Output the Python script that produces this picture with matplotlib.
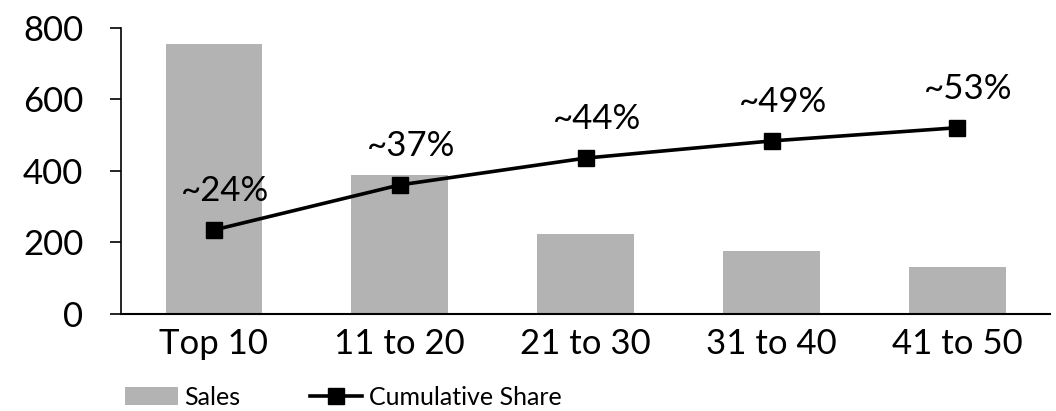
import matplotlib.pyplot as plt
import numpy as np

plt.rcParams['font.family'] = ['Lato', 'DejaVu Sans']

categories = ['Top 10', '11 to 20', '21 to 30', '31 to 40', '41 to 50']
sales = [754, 389, 224, 176, 131]
cumulative = [235, 361, 436, 484, 521]
share_labels = ['~24%', '~37%', '~44%', '~49%', '~53%']

fig = plt.figure(figsize=(10.56, 4.11), dpi=100)
ax = fig.add_axes([0.1146, 0.236, 0.88, 0.696])

x = np.arange(len(categories))
bars = ax.bar(x, sales, width=0.52, color='#b3b3b3', label='Sales', zorder=1)
line, = ax.plot(x, cumulative, color='black', lw=2.6, marker='s', markersize=12,
                label='Cumulative Share', zorder=3)

for xi, yi, lab in zip(x, cumulative, share_labels):
    ax.annotate(lab, (xi, yi), xytext=(8, 28), textcoords='offset points',
                ha='center', va='center', fontsize=25)

ax.set_xlim(-0.5, len(categories) - 0.5)
ax.set_ylim(0, 800)
ax.set_yticks([0, 200, 400, 600, 800])
ax.set_xticks(x)
ax.set_xticklabels(categories)

for s in ['top', 'right']:
    ax.spines[s].set_visible(False)
ax.spines['left'].set_linewidth(1.2)
ax.spines['bottom'].set_linewidth(1.5)
ax.tick_params(axis='y', length=8, width=1.2, pad=19, labelsize=25)
ax.tick_params(axis='x', length=0, pad=10, labelsize=25)

ax.legend([bars, line], ['Sales', 'Cumulative Share'],
          loc='center left', bbox_to_anchor=(0.109, 0.033), bbox_transform=fig.transFigure,
          ncol=2, frameon=False, fontsize=18, handlelength=2.1, handletextpad=0.25,
          columnspacing=2.8, borderaxespad=0)

fig.savefig('out.png', dpi=100)
